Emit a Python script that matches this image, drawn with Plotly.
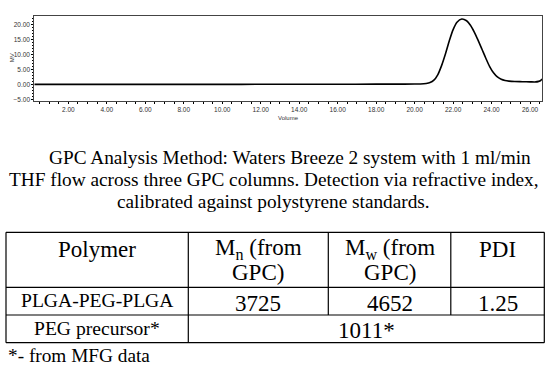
import plotly.graph_objects as go

# ---- chromatogram data ----
volume = [0.23, 2.0, 4.0, 6.0, 8.0, 10.0, 12.0, 14.0, 16.0, 18.0, 19.0, 20.0, 20.3, 20.6,
          20.8, 21.0, 21.2, 21.4, 21.6, 21.8, 22.0, 22.2, 22.45, 22.7, 22.9, 23.1, 23.3,
          23.5, 23.7, 23.9, 24.1, 24.3, 24.5, 24.7, 24.9, 25.2, 25.6, 26.0, 26.25, 26.45,
          26.55, 26.62]
signal_mv = [0.0, 0.0, 0.0, 0.0, 0.0, 0.0, 0.02, 0.03, 0.05, 0.07, 0.08, 0.1, 0.12, 0.3,
             0.6, 1.4, 3.2, 6.3, 10.2, 14.6, 18.4, 20.9, 22.0, 21.4, 19.9, 17.6, 14.8,
             11.8, 8.8, 6.0, 3.9, 2.5, 1.7, 1.3, 1.1, 0.95, 0.9, 0.85, 0.8, 1.0, 1.3, 1.8]

# ---- text content ----
paragraph_lines = [
    "GPC Analysis Method: Waters Breeze 2 system with 1 ml/min",
    "THF flow across three GPC columns. Detection via refractive index,",
    "calibrated against polystyrene standards.",
]
header_line1 = ["Polymer", "M<sub>n</sub> (from", "M<sub>w</sub> (from", "PDI"]
header_line2 = ["", "GPC)", "GPC)", ""]
row_polymer = ["PLGA-PEG-PLGA", "3725", "4652", "1.25"]
row_peg = ["PEG precursor*", "1011*"]
footnote = "*- from MFG data"

W, H = 548, 380


def px(x):
    return x / W


def py(y):
    return 1 - y / H


fig = go.Figure()
fig.add_trace(go.Scatter(
    x=volume, y=signal_mv, mode="lines",
    line=dict(color="black", width=1.6, shape="spline", smoothing=0.8),
    hoverinfo="skip", showlegend=False,
))

tickfont = dict(family="Liberation Sans, Arial, sans-serif", size=6.5, color="#333333")
fig.update_layout(
    width=W, height=H,
    margin=dict(l=0, r=0, t=0, b=0),
    paper_bgcolor="white", plot_bgcolor="white",
    showlegend=False,
    xaxis=dict(
        domain=[px(34.3), px(542)], range=[0.23, 26.62],
        tick0=0, dtick=2, tickformat=".2f", ticks="outside", ticklen=2,
        tickcolor="black", tickfont=tickfont,
        minor=dict(dtick=0.5, ticks="outside", ticklen=2, tickcolor="black"),
        showline=True, linecolor="#444444", linewidth=1, mirror=True,
        showgrid=False, zeroline=False, automargin=False, fixedrange=True,
    ),
    yaxis=dict(
        domain=[py(101.3), py(16.3)], range=[-5.7, 22.9],
        tick0=0, dtick=5, tickformat=".2f", ticks="outside", ticklen=2,
        tickcolor="black", tickfont=tickfont,
        minor=dict(dtick=1, ticks="outside", ticklen=1.5, tickcolor="black"),
        showline=True, linecolor="#444444", linewidth=1, mirror=True,
        showgrid=False, zeroline=False, automargin=False, fixedrange=True,
    ),
)

ann = []
small = dict(family="Liberation Sans, Arial, sans-serif", size=6, color="#333333")
ann.append(dict(text="Volume", x=px(288.3), y=py(117.7), xref="paper", yref="paper",
                showarrow=False, font=small, xanchor="center", yanchor="middle"))
ann.append(dict(text="MV", x=px(12), y=py(58.3), xref="paper", yref="paper",
                showarrow=False, font=small, textangle=-90, xanchor="center", yanchor="middle"))

serif = "Liberation Serif, Times New Roman, serif"
para_font = dict(family=serif, size=19.3, color="black")
ann.append(dict(text=paragraph_lines[0], x=px(47), y=py(157), xref="paper", yref="paper",
                showarrow=False, font=para_font, xanchor="left", yanchor="middle"))
ann.append(dict(text=paragraph_lines[1], x=px(274.3), y=py(180), xref="paper", yref="paper",
                showarrow=False, font=para_font, xanchor="center", yanchor="middle"))
ann.append(dict(text=paragraph_lines[2], x=px(273), y=py(201), xref="paper", yref="paper",
                showarrow=False, font=para_font, xanchor="center", yanchor="middle"))

# table geometry (pixels)
col_x = [6, 188.3, 328.3, 450.8, 544.3]
row_y = [232.3, 287.3, 315, 342.7]
col_c = [(col_x[i] + col_x[i + 1]) / 2 for i in range(4)]

big = dict(family=serif, size=23, color="black")
mid = dict(family=serif, size=19.6, color="black")

for i in range(4):
    ann.append(dict(text=header_line1[i], x=px(col_c[i]), y=py(249), xref="paper", yref="paper",
                    showarrow=False, font=big, xanchor="center", yanchor="middle"))
    if header_line2[i]:
        ann.append(dict(text=header_line2[i], x=px(col_c[i]), y=py(272.4), xref="paper",
                        yref="paper", showarrow=False, font=big, xanchor="center",
                        yanchor="middle"))

ann.append(dict(text=row_polymer[0], x=px(col_c[0]), y=py(300.4), xref="paper", yref="paper",
                showarrow=False, font=mid, xanchor="center", yanchor="middle"))
for i in range(1, 4):
    ann.append(dict(text=row_polymer[i], x=px(col_c[i]), y=py(303.4), xref="paper",
                    yref="paper", showarrow=False, font=big, xanchor="center",
                    yanchor="middle"))

ann.append(dict(text=row_peg[0], x=px(col_c[0]), y=py(328), xref="paper", yref="paper",
                showarrow=False, font=mid, xanchor="center", yanchor="middle"))
ann.append(dict(text=row_peg[1], x=px((col_x[1] + col_x[4]) / 2), y=py(330.7), xref="paper",
                yref="paper", showarrow=False, font=big, xanchor="center", yanchor="middle"))

ann.append(dict(text=footnote, x=px(6), y=py(355.5), xref="paper", yref="paper",
                showarrow=False, font=dict(family=serif, size=19.3, color="black"),
                xanchor="left", yanchor="middle"))

shapes = []
line = dict(color="black", width=1.2)
for yv in row_y:
    shapes.append(dict(type="line", xref="paper", yref="paper",
                       x0=px(col_x[0]), x1=px(col_x[4]), y0=py(yv), y1=py(yv), line=line))
for xv in [col_x[0], col_x[4]]:
    shapes.append(dict(type="line", xref="paper", yref="paper",
                       x0=px(xv), x1=px(xv), y0=py(row_y[0]), y1=py(row_y[3]), line=line))
shapes.append(dict(type="line", xref="paper", yref="paper",
                   x0=px(col_x[1]), x1=px(col_x[1]), y0=py(row_y[0]), y1=py(row_y[3]), line=line))
for xv in [col_x[2], col_x[3]]:
    shapes.append(dict(type="line", xref="paper", yref="paper",
                       x0=px(xv), x1=px(xv), y0=py(row_y[0]), y1=py(row_y[2]), line=line))

fig.update_layout(annotations=ann, shapes=shapes)
fig.write_html(
    "out.html",
    config={"displayModeBar": False},
    post_script="document.body.style.margin='0px';document.body.style.overflow='hidden';",
)
